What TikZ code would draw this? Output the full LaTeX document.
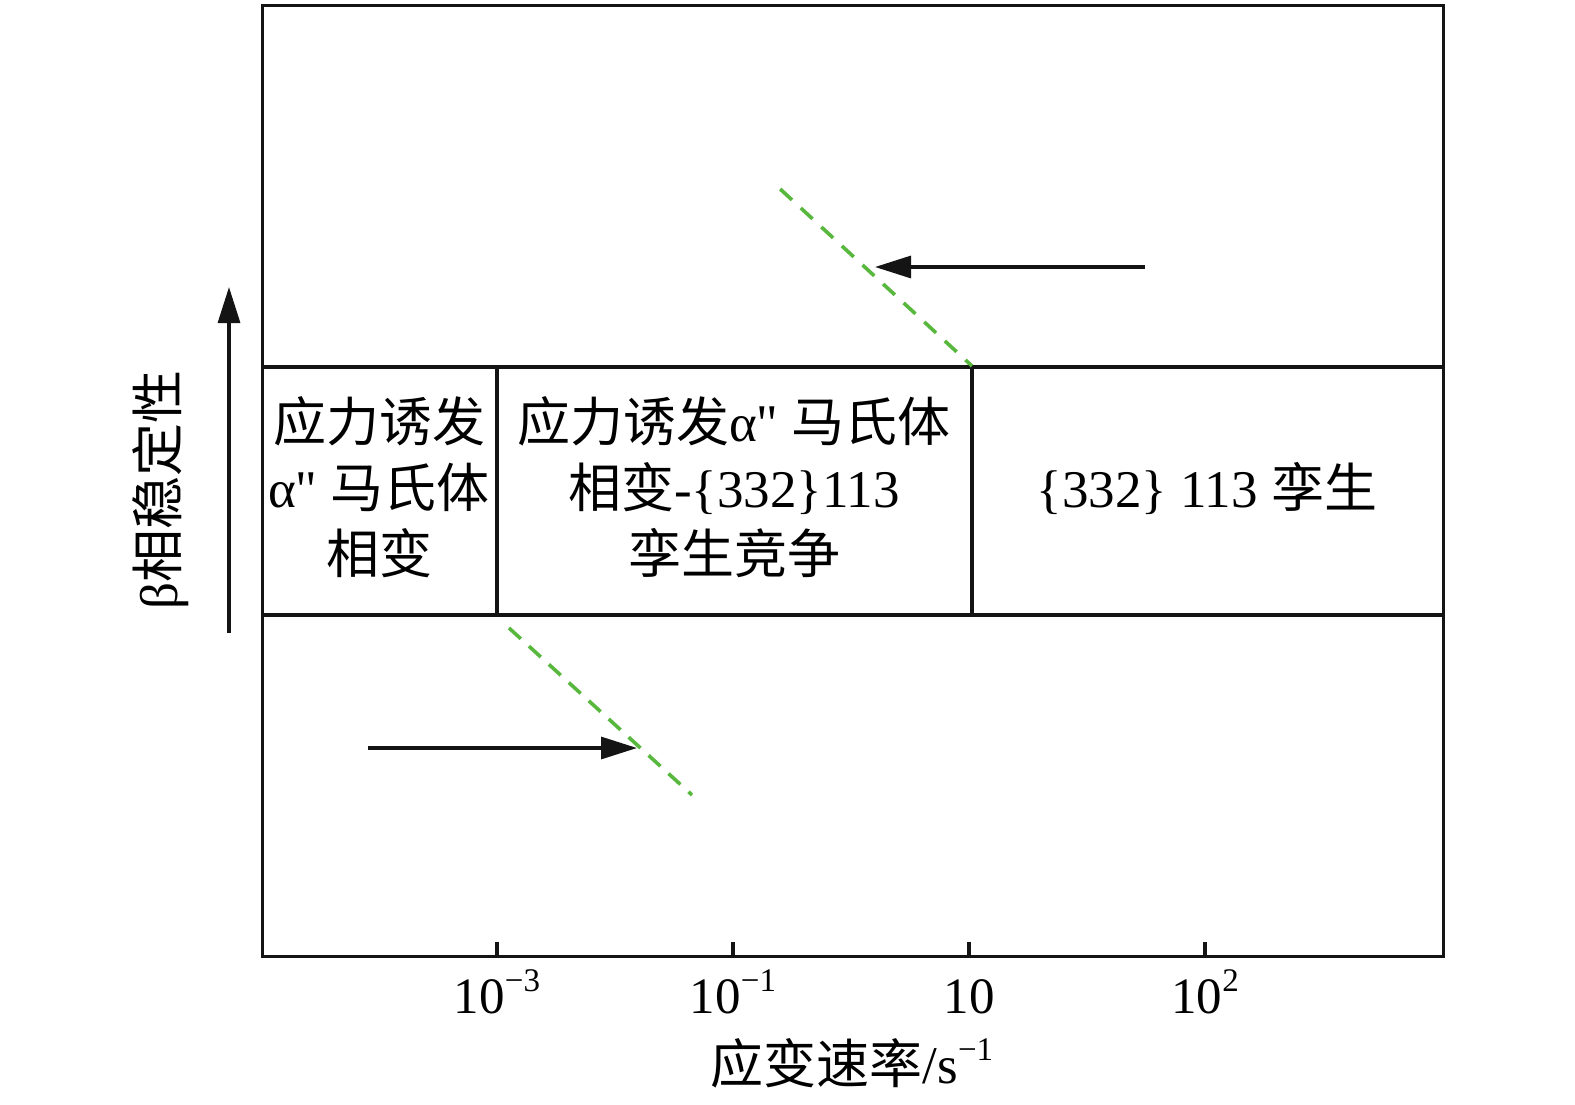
\documentclass[tikz,border=0pt]{standalone}
\usepackage{fontspec}
\setmainfont{Liberation Serif}
\newfontfamily\cjk{Noto Sans CJK SC}
\newfontfamily\rawserif{Liberation Serif}
\newcommand\zh[1]{{\cjk #1}}
\newcommand\sq{{\rawserif"}}
\newcommand\supx[1]{\raisebox{0.42em}{\fontsize{33}{33}\selectfont #1}}
\usetikzlibrary{arrows.meta}
\definecolor{dgreen}{RGB}{88,184,62}
\begin{document}
\begin{tikzpicture}[x=1pt,y=-1pt,
  frameline/.style={line width=3.3pt, draw=black!92},
  cell/.style={font=\fontsize{53}{66}\selectfont, align=center, inner sep=0pt},
  ticklabel/.style={font=\fontsize{51}{60}\selectfont, anchor=base, inner sep=0pt},
  greendash/.style={draw=dgreen, line width=3.6pt, dash pattern=on 16pt off 12pt},
  pointer/.style={draw=black!92, line width=3.2pt, -{Triangle[length=36pt,width=22pt]}}]
\path[use as bounding box] (0,0) rectangle (1575,1104);
% frame
\node[frameline, draw, anchor=north west, inner sep=0pt, minimum width=1181pt, minimum height=951pt] (frame) at (261,4) {};
% band
\draw[frameline] (261,367) -- (1442,367);
\draw[frameline] (261,615) -- (1442,615);
\draw[frameline] (497,367) -- (497,615);
\draw[frameline] (972,367) -- (972,615);
% ticks
\foreach \x in {497,733,969,1205} \draw[frameline] (\x,955) -- (\x,942);
\node[ticklabel] (t1) at (497,1013) {10\supx{\char"2212 3}};
\node[ticklabel] (t2) at (733,1013) {10\supx{\char"2212 1}};
\node[ticklabel] (t3) at (969,1013) {10};
\node[ticklabel] (t4) at (1205,1013) {10\supx{2}};
\node[font=\fontsize{53}{60}\selectfont, inner sep=0pt] (xlab) at (852,1063) {\zh{应变速率}/s\supx{\char"2212 1}};
% cells
\node[cell] (c1) at (379,487) {\zh{应力诱发}\\α\sq{} \zh{马氏体}\\\zh{相变}};
\node[cell] (c2) at (734,487) {\zh{应力诱发}α\sq{} \zh{马氏体}\\\zh{相变}-\{332\}113\\\zh{孪生竞争}};
\node[cell] (c3) at (1207,488) {\{332\} 113 \zh{孪生}};
% y label and arrow
\node[font=\fontsize{53}{60}\selectfont, rotate=90, inner sep=0pt] (ylab) at (161,490) {β\zh{相稳定性}};
\coordinate (ys) at (229,633);
\coordinate (ye) at (229,287);
\draw[pointer] (ys) -- (ye);
% green dashed boundaries
\coordinate (g1a) at (778,187);
\coordinate (g1b) at (972,366);
\coordinate (g2a) at (509,628);
\coordinate (g2b) at (692,795);
\draw[greendash, dash phase=-3pt] (g1a) -- (g1b);
\draw[greendash, dash pattern=on 16pt off 11pt] (g2a) -- (g2b);
% arrows
\coordinate (a1s) at (1145,267);
\coordinate (a1e) at (875,267);
\draw[pointer] (a1s) -- (a1e);
\coordinate (a2s) at (368,748);
\coordinate (a2e) at (637,748);
\draw[pointer] (a2s) -- (a2e);
\end{tikzpicture}
\end{document}
